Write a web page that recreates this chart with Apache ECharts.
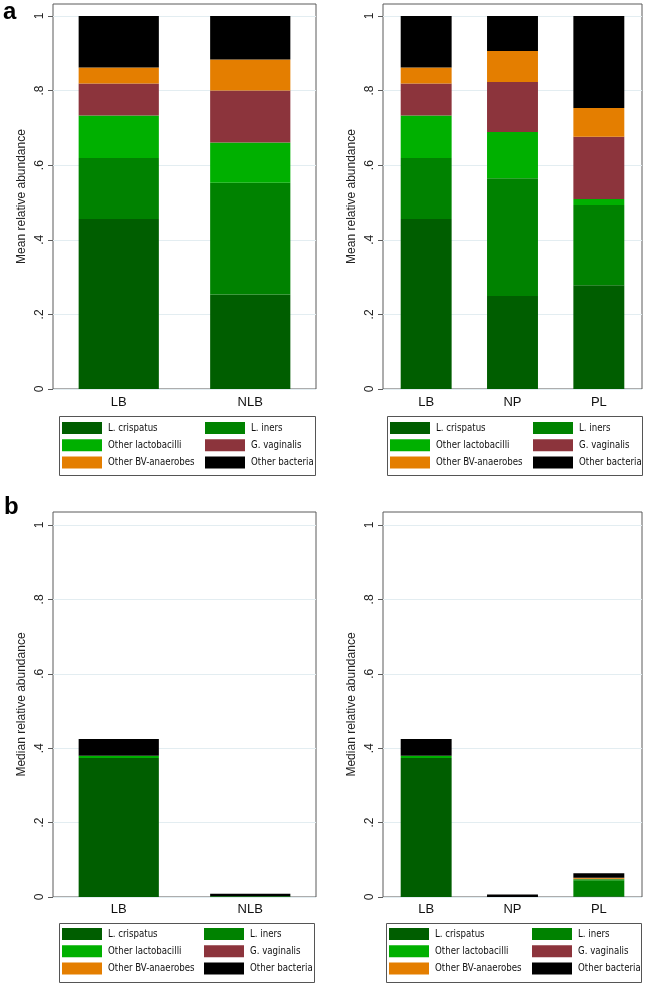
<!DOCTYPE html>
<html>
<head>
<meta charset="utf-8">
<script src="https://cdn.jsdelivr.net/npm/echarts@6/dist/echarts.min.js"></script>
<style>
html,body{margin:0;padding:0;background:#fff;}
#chart{width:645px;height:983px;}
</style>
</head>
<body>
<div id="chart"></div>
<script>
// ---- data ----
const species = ['L. crispatus', 'L. iners', 'Other lactobacilli', 'G. vaginalis', 'Other BV-anaerobes', 'Other bacteria'];
const speciesColors = ['#005e00', '#008200', '#00b000', '#8c343c', '#e47e00', '#000000'];
const catsLeft = ['LB', 'NLB'];
const catsRight = ['LB', 'NP', 'PL'];
const yTicks = [0, 0.2, 0.4, 0.6, 0.8, 1];

// mean relative abundance (panel a), order = species
const meanLB  = [0.456, 0.163, 0.114, 0.086, 0.043, 0.138];
const meanNLB = [0.253, 0.300, 0.108, 0.139, 0.083, 0.117];
const meanNP  = [0.249, 0.316, 0.124, 0.134, 0.083, 0.094];
const meanPL  = [0.278, 0.215, 0.016, 0.167, 0.077, 0.247];

// median relative abundance (panel b)
const medianLB  = [0.374, 0.000, 0.006, 0.000, 0.000, 0.045];
const medianNLB = [0.000, 0.002, 0.000, 0.000, 0.000, 0.007];
const medianNP  = [0.000, 0.000, 0.000, 0.000, 0.000, 0.007];
const medianPL  = [0.002, 0.043, 0.003, 0.001, 0.003, 0.012];

// ---- layout ----
const FRAME = '#5a5a5a';
const GRIDLINE = '#e3edf1';
const AXISFONT = 'Liberation Sans, Arial, sans-serif';
const LEGFONT = "'DejaVu Sans Condensed', 'Liberation Sans', Arial, sans-serif";

const grids = [
  {left: 53, right: 329, top: 4, bottom: 594, show: true, borderColor: FRAME, borderWidth: 1},
  {left: 383, right: 3, top: 4, bottom: 594, show: true, borderColor: FRAME, borderWidth: 1},
  {left: 53, right: 329, top: 512, bottom: 86, show: true, borderColor: FRAME, borderWidth: 1},
  {left: 383, right: 3, top: 512, bottom: 86, show: true, borderColor: FRAME, borderWidth: 1}
];
const panelCats = [catsLeft, catsRight, catsLeft, catsRight];
const panelData = [
  [meanLB, meanNLB],
  [meanLB, meanNP, meanPL],
  [medianLB, medianNLB],
  [medianLB, medianNP, medianPL]
];
const yMax = [1.032, 1.032, 1.035, 1.035];
const yNames = ['Mean relative abundance', 'Mean relative abundance', 'Median relative abundance', 'Median relative abundance'];
const barW = ['61%', '59%', '61%', '59%'];

function fmtTick(v) {
  if (v === 0) return '0';
  if (v === 1) return '1';
  return String(+v.toFixed(1)).replace(/^0\./, '.');
}

const xAxes = [], yAxes = [], series = [];
for (let p = 0; p < 4; p++) {
  xAxes.push({
    type: 'category', gridIndex: p, data: panelCats[p],
    axisLine: {show: false}, axisTick: {show: false},
    axisLabel: {color: '#111', fontSize: 13, fontFamily: AXISFONT, margin: p < 2 ? 7 : 6}
  });
  yAxes.push({
    type: 'value', gridIndex: p, min: 0, max: yMax[p], interval: 0.2,
    name: yNames[p], nameLocation: 'middle', nameGap: 25,
    nameTextStyle: {color: '#222', fontSize: 12, fontFamily: AXISFONT},
    axisLine: {show: false},
    axisTick: {show: true, length: 5, lineStyle: {color: FRAME}, customValues: yTicks},
    axisLabel: {rotate: 90, color: '#222', fontSize: 12, fontFamily: AXISFONT, margin: 7,
      customValues: yTicks, formatter: fmtTick},
    splitLine: {show: true, lineStyle: {color: GRIDLINE, width: 1}}
  });
  for (let s = 0; s < species.length; s++) {
    series.push({
      name: species[s], type: 'bar', xAxisIndex: p, yAxisIndex: p,
      stack: 'panel' + p, barWidth: barW[p],
      itemStyle: {color: speciesColors[s]},
      emphasis: {disabled: true},
      data: panelData[p].map(arr => arr[s])
    });
  }
}

// legends: two columns per panel
const legendPos = [
  {c1: 62, c2: 205, top: 422},
  {c1: 390, c2: 533, top: 422},
  {c1: 62, c2: 204, top: 928},
  {c1: 389, c2: 532, top: 928}
];
const col1 = [species[0], species[2], species[4]];
const col2 = [species[1], species[3], species[5]];
const legends = [];
legendPos.forEach(lp => {
  [[lp.c1, col1], [lp.c2, col2]].forEach(([x, names]) => {
    legends.push({
      orient: 'vertical', left: x, top: lp.top, padding: 0,
      itemWidth: 40, itemHeight: 12, itemGap: 5.3, icon: 'rect',
      selectedMode: false,
      data: names,
      textStyle: {color: '#111', fontSize: 9.6, fontFamily: LEGFONT, padding: [0, 0, 0, 1]}
    });
  });
});

const boxes = [
  {x: 57, y: 414, w: 256, h: 59},
  {x: 385, y: 414, w: 255, h: 59},
  {x: 57, y: 921, w: 255, h: 59},
  {x: 384, y: 921, w: 255, h: 59}
];
const graphics = boxes.map(b => ({
  type: 'rect', left: b.x, top: b.y, silent: true,
  shape: {width: b.w, height: b.h},
  style: {fill: null, stroke: '#555', lineWidth: 1}
}));
graphics.push({type: 'text', left: 3, top: 0, style: {text: 'a', font: 'bold 24px Arial, sans-serif', fill: '#000'}});
graphics.push({type: 'text', left: 4, top: 495, style: {text: 'b', font: 'bold 24px Arial, sans-serif', fill: '#000'}});

const chart = echarts.init(document.getElementById('chart'), null, {renderer: 'canvas'});
chart.setOption({
  animation: false,
  backgroundColor: '#fff',
  grid: grids,
  xAxis: xAxes,
  yAxis: yAxes,
  legend: legends,
  graphic: graphics,
  series: series
});
</script>
</body>
</html>
